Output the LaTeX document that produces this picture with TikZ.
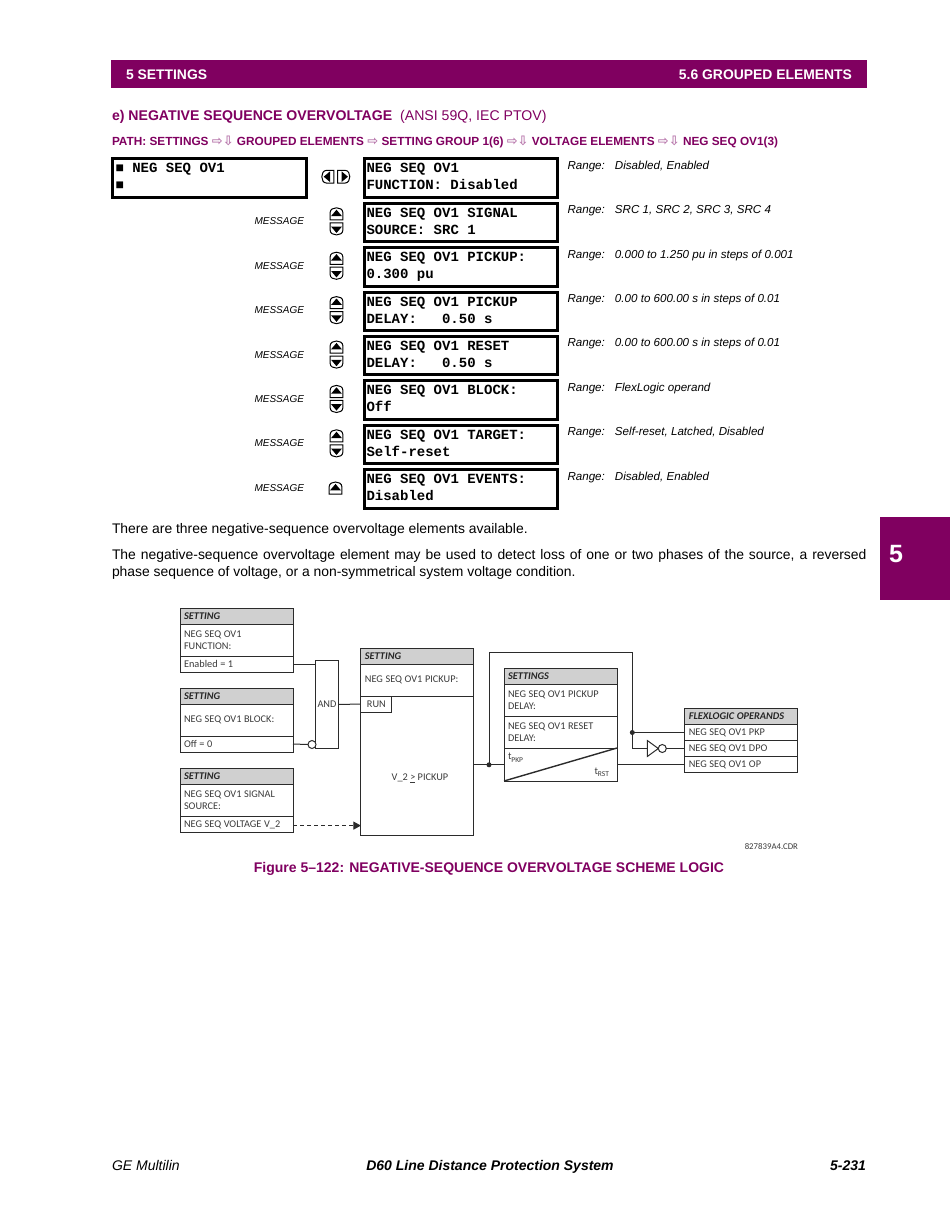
\documentclass[tikz,border=0pt]{standalone}
\usepackage{fontspec}
\usepackage{xcolor}
\setmainfont{Liberation Sans}
\setmonofont{Liberation Mono}
\newfontfamily\logicfont{Carlito}
\newfontfamily\arrowfont{DejaVu Sans}
\definecolor{gepurple}{HTML}{800060}
\definecolor{arrowpink}{HTML}{B878AC}
\definecolor{wiregrey}{HTML}{2B2B2B}
\definecolor{headgrey}{HTML}{D0D0D0}
\definecolor{logictextgrey}{HTML}{3A3A3A}
\usetikzlibrary{shapes,arrows,arrows.meta,positioning}
\newcommand{\pathsep}{{\color{arrowpink}\arrowfont\fontsize{13}{14}\selectfont ⇨}}
\newcommand{\pathdown}{{\color{arrowpink}\arrowfont\fontsize{13}{14}\selectfont ⇨⇩}}
\newcommand{\rangeline}[1]{\makebox[47.5pt][l]{Range:}#1}

\begin{document}
\begin{tikzpicture}[
    x=1pt, y=-1pt,
    band/.style={rectangle, fill=gepurple, inner sep=0pt, outer sep=0pt},
    plain/.style={inner sep=0pt, outer sep=0pt, anchor=west},
    lcdbox/.style={rectangle, draw, line width=3pt, minimum width=193pt, minimum height=38.4pt, text width=189pt, inner xsep=2pt, inner ysep=0pt, outer sep=0pt, align=left, font=\ttfamily\bfseries\fontsize{14}{17}\selectfont, execute at begin node={\spaceskip=8.4pt\relax}, execute at end node={\rule[-2.5pt]{0pt}{2.5pt}}},
    rangetext/.style={inner sep=0pt, outer sep=0pt, anchor=north west, xshift=10pt, yshift=-2pt, font=\itshape\fontsize{11.6}{14}\selectfont},
    msgtext/.style={inner sep=0pt, outer sep=0pt, yshift=1pt, font=\itshape\fontsize{10}{12}\selectfont},
    sethead/.style={rectangle, draw=wiregrey, line width=1pt, fill=headgrey, text width=105pt, minimum height=16pt, inner xsep=4pt, inner ysep=0pt, outer sep=0pt, align=left, text=black!85, font=\logicfont\bfseries\itshape\fontsize{10.3}{12}\selectfont, execute at begin node={\spaceskip=2.6pt\relax}},
    setbody/.style={rectangle, draw=wiregrey, line width=1pt, text width=105pt, minimum height=32pt, inner xsep=4pt, inner ysep=0pt, outer sep=0pt, align=left, text=logictextgrey, font=\logicfont\fontsize{10.3}{12}\selectfont, execute at begin node={\spaceskip=2.6pt\relax}},
    setval/.style={setbody, minimum height=16pt},
    logictext/.style={inner sep=0pt, outer sep=0pt, text=logictextgrey, font=\logicfont\fontsize{10.3}{12}\selectfont},
    gatebox/.style={rectangle, draw=wiregrey, line width=1pt, minimum width=22.3pt, minimum height=88pt, inner sep=0pt, outer sep=0pt, text=logictextgrey, font=\logicfont\fontsize{10.3}{12}\selectfont},
    bubble/.style={circle, draw=wiregrey, line width=1pt, fill=white, minimum size=8pt, inner sep=0pt, outer sep=0pt},
    junction/.style={circle, fill=wiregrey, minimum size=5pt, inner sep=0pt, outer sep=0pt},
    notgate/.style={isosceles triangle, isosceles triangle stretches, draw=wiregrey, line width=1pt, fill=white, minimum width=16pt, minimum height=11pt, inner sep=0pt, outer sep=0pt},
    wire/.style={wiregrey, line width=1pt},
    arrow/.style={-{Stealth[length=7.5pt,width=8pt,inset=0pt]}, wiregrey, line width=1pt, dash pattern=on 4pt off 3pt},
    upkey/.pic={
        \draw[line width=1pt, fill=white] (-6.3,5.6) -- (-6.3,-2) .. controls (-6.3,-5) and (-3,-6.5) .. (0,-6.5) .. controls (3,-6.5) and (6.3,-5) .. (6.3,-2) -- (6.3,5.6) -- cycle;
        \fill (-5.4,1.8) -- (0,-4.6) -- (5.4,1.8) -- cycle;
    },
    downkey/.pic={
        \draw[line width=1pt, fill=white] (-6.3,-5.6) -- (-6.3,2) .. controls (-6.3,5) and (-3,6.5) .. (0,6.5) .. controls (3,6.5) and (6.3,5) .. (6.3,2) -- (6.3,-5.6) -- cycle;
        \fill (-5.4,-1.8) -- (0,4.6) -- (5.4,-1.8) -- cycle;
    },
    leftkey/.pic={
        \draw[line width=1pt, fill=white] (5.6,-6.3) -- (-2,-6.3) .. controls (-5,-6.3) and (-6.5,-3) .. (-6.5,0) .. controls (-6.5,3) and (-5,6.3) .. (-2,6.3) -- (5.6,6.3) -- cycle;
        \fill (1.8,-5.4) -- (-4.6,0) -- (1.8,5.4) -- cycle;
    },
    rightkey/.pic={
        \draw[line width=1pt, fill=white] (-5.6,-6.3) -- (2,-6.3) .. controls (5,-6.3) and (6.5,-3) .. (6.5,0) .. controls (6.5,3) and (5,6.3) .. (2,6.3) -- (-5.6,6.3) -- cycle;
        \fill (-1.8,-5.4) -- (4.6,0) -- (-1.8,5.4) -- cycle;
    }
]
    \useasboundingbox (0,0) rectangle (950,1229);

    \node[band, minimum width=756pt, minimum height=28pt] (header) at (489,74) {};
    \node[plain, text=white, font=\bfseries\fontsize{13.9}{17}\selectfont] (chapter) at (126,74.8) {5 SETTINGS};
    \node[plain, anchor=east, text=white, font=\bfseries\fontsize{13.9}{17}\selectfont] (section) at (852,74.8) {5.6 GROUPED ELEMENTS};
    \node[band, minimum width=70pt, minimum height=83pt] (tab) at (915,558.5) {};
    \node[plain, anchor=center, text=white, font=\bfseries\fontsize{25}{28}\selectfont] (tabnum) at (896,554) {5};

    \node[plain, text=gepurple, font=\fontsize{14.1}{17}\selectfont] (title) at (112,117) {\textbf{e) NEGATIVE SEQUENCE OVERVOLTAGE}\hspace{8pt}(ANSI 59Q, IEC PTOV)};
    \node[plain, text=gepurple, font=\bfseries\fontsize{11.8}{14}\selectfont] (menupath) at (112,141.5) {PATH: SETTINGS \pathdown{} GROUPED ELEMENTS \pathsep{} SETTING GROUP 1(6) \pathdown{} VOLTAGE ELEMENTS \pathdown{} NEG SEQ OV1(3)};

    \node[lcdbox, minimum width=194pt, text width=188pt, inner xsep=3pt] (lcdtop) at (209.5,178) {■ NEG SEQ OV1\\■};
    \node[lcdbox] (lcdfunc) at (461,178) {NEG SEQ OV1\\FUNCTION: Disabled};
    \node[lcdbox, below=6pt of lcdfunc] (lcdsrc) {NEG SEQ OV1 SIGNAL\\SOURCE: SRC 1};
    \node[lcdbox, below=6pt of lcdsrc] (lcdpick) {NEG SEQ OV1 PICKUP:\\0.300 pu};
    \node[lcdbox, below=6pt of lcdpick] (lcdpdly) {NEG SEQ OV1 PICKUP\\DELAY:\ \ \ 0.50 s};
    \node[lcdbox, below=6pt of lcdpdly] (lcdrdly) {NEG SEQ OV1 RESET\\DELAY:\ \ \ 0.50 s};
    \node[lcdbox, below=6pt of lcdrdly] (lcdblock) {NEG SEQ OV1 BLOCK:\\Off};
    \node[lcdbox, below=6pt of lcdblock] (lcdtarget) {NEG SEQ OV1 TARGET:\\Self-reset};
    \node[lcdbox, below=6pt of lcdtarget] (lcdevents) {NEG SEQ OV1 EVENTS:\\Disabled};

    \node[rangetext] (rngfunc) at (lcdfunc.north east) {\rangeline{Disabled, Enabled}};
    \node[rangetext] (rngsrc) at (lcdsrc.north east) {\rangeline{SRC 1, SRC 2, SRC 3, SRC 4}};
    \node[rangetext] (rngpick) at (lcdpick.north east) {\rangeline{0.000 to 1.250 pu in steps of 0.001}};
    \node[rangetext] (rngpdly) at (lcdpdly.north east) {\rangeline{0.00 to 600.00 s in steps of 0.01}};
    \node[rangetext] (rngrdly) at (lcdrdly.north east) {\rangeline{0.00 to 600.00 s in steps of 0.01}};
    \node[rangetext] (rngblock) at (lcdblock.north east) {\rangeline{FlexLogic operand}};
    \node[rangetext] (rngtarget) at (lcdtarget.north east) {\rangeline{Self-reset, Latched, Disabled}};
    \node[rangetext] (rngevents) at (lcdevents.north east) {\rangeline{Disabled, Enabled}};

    \node[msgtext, left=60.5pt of lcdsrc] (msgsrc) {MESSAGE};
    \node[msgtext, left=60.5pt of lcdpick] (msgpick) {MESSAGE};
    \node[msgtext, left=60.5pt of lcdpdly] (msgpdly) {MESSAGE};
    \node[msgtext, left=60.5pt of lcdrdly] (msgrdly) {MESSAGE};
    \node[msgtext, left=60.5pt of lcdblock] (msgblock) {MESSAGE};
    \node[msgtext, left=60.5pt of lcdtarget] (msgtarget) {MESSAGE};
    \node[msgtext, left=60.5pt of lcdevents] (msgevents) {MESSAGE};

    \pic at (328.3,176.7) {leftkey};
    \pic at (343.3,176.7) {rightkey};
    \pic at (336.5,214.3) {upkey};
    \pic at (336.5,228.4) {downkey};
    \pic at (336.5,258.7) {upkey};
    \pic at (336.5,272.8) {downkey};
    \pic at (336.5,303.1) {upkey};
    \pic at (336.5,317.2) {downkey};
    \pic at (336.5,347.5) {upkey};
    \pic at (336.5,361.6) {downkey};
    \pic at (336.5,391.9) {upkey};
    \pic at (336.5,406) {downkey};
    \pic at (336.5,436.3) {upkey};
    \pic at (336.5,450.4) {downkey};
    \pic at (335.5,488.5) {upkey};

    \node[plain, font=\fontsize{13.9}{17}\selectfont] (intro) at (112,529.5) {There are three negative-sequence overvoltage elements available.};
    \node[plain, text width=754.5pt, align=justify, font=\fontsize{13.9}{17}\selectfont] (para) at (112,564) {The negative-sequence overvoltage element may be used to detect loss of one or two phases of the source, a reversed phase sequence of voltage, or a non-symmetrical system voltage condition.};

    \node[sethead] (funchead) at (236.5,616) {SETTING};
    \node[setbody, below=0pt of funchead] (funcbody) {NEG SEQ OV1\\FUNCTION:};
    \node[setval, below=0pt of funcbody] (funcval) {Enabled = 1};
    \node[sethead] (blockhead) at (236.5,696) {SETTING};
    \node[setbody, below=0pt of blockhead] (blockbody) {NEG SEQ OV1 BLOCK:};
    \node[setval, below=0pt of blockbody] (blockval) {Off = 0};
    \node[sethead] (srchead) at (236.5,776.6) {SETTING};
    \node[setbody, below=0pt of srchead] (srcbody) {NEG SEQ OV1 SIGNAL\\SOURCE:};
    \node[setval, below=0pt of srcbody] (srcval) {NEG SEQ VOLTAGE V\_2};

    \node[gatebox] (andgate) at (327,704.5) {AND};
    \node[bubble] (blocknot) at (312,744.5) {};

    \node[sethead] (pickhead) at (417.4,656) {SETTING};
    \node[setbody, below=0pt of pickhead] (pickbody) {NEG SEQ OV1 PICKUP:};
    \node[setbody, below=0pt of pickbody, minimum height=139pt] (pickcmp) {};
    \node[setval, anchor=north west, text width=23pt, align=center] (pickrun) at (pickcmp.north west) {RUN};
    \node[logictext] (pickexpr) at (420,778.5) {V\_2 \underline{>} PICKUP};

    \node[sethead] (delayhead) at (560.5,676) {SETTINGS};
    \node[setbody, below=0pt of delayhead] (delaypkp) {NEG SEQ OV1 PICKUP\\DELAY:};
    \node[setbody, below=0pt of delaypkp] (delayrst) {NEG SEQ OV1 RESET\\DELAY:};
    \node[setbody, below=0pt of delayrst, minimum height=33pt] (delaytimer) {};
    \node[logictext, anchor=north west, xshift=4pt, yshift=-5pt] (tpkp) at (delaytimer.north west) {t\raisebox{-2.5pt}{\fontsize{7.5}{8}\selectfont PKP}};
    \node[logictext, anchor=south east, xshift=-8pt, yshift=4pt] (trst) at (delaytimer.south east) {t\raisebox{-2.5pt}{\fontsize{7.5}{8}\selectfont RST}};

    \node[sethead] (flexhead) at (741.3,716.5) {FLEXLOGIC OPERANDS};
    \node[setval, below=0pt of flexhead] (flexpkp) {NEG SEQ OV1 PKP};
    \node[setval, below=0pt of flexpkp] (flexdpo) {NEG SEQ OV1 DPO};
    \node[setval, below=0pt of flexdpo] (flexop) {NEG SEQ OV1 OP};

    \node[junction] (outdot) at (489,764.8) {};
    \node[junction] (pkpdot) at (632.3,732.5) {};
    \coordinate (loopright) at (632.3,652.7);
    \node[notgate, anchor=lower side] (dpogate) at (647.3,748.5) {};
    \node[bubble, right=0pt of dpogate.apex] (dponot) {};

    \draw[wire] (funcval.east) -- (funcval.east -| andgate.west);
    \draw[wire] (blockval.east) -- (blocknot.west);
    \draw[wire] (andgate.east) -- (pickrun.west);
    \draw[arrow] ([yshift=-1pt]srcval.east) -- ([yshift=-1pt]srcval.east -| pickcmp.west);
    \draw[wire, line width=1.5pt] (delaytimer.west -| pickcmp.east) -- (delaytimer.west);
    \draw[wire] (outdot.center) |- (loopright) -- (pkpdot.center);
    \draw[wire] (pkpdot.center) -- (flexpkp.west);
    \draw[wire] (pkpdot.center) |- (dpogate.lower side);
    \draw[wire] (dponot.east) -- (flexdpo.west);
    \draw[wire, line width=1.6pt] (delaytimer.east) -- (flexop.west);
    \draw[wire, line width=1.4pt] (delaytimer.south west) -- (delaytimer.north east);

    \node[plain, anchor=east, text=logictextgrey, font=\logicfont\fontsize{8.8}{10}\selectfont, execute at begin node={\spaceskip=2pt\relax}] (drawingno) at (798,846.5) {827839A4.CDR};
    \node[plain, anchor=center, text=gepurple, font=\bfseries\fontsize{14}{17}\selectfont] (caption) at (489,868.5) {Figure 5–122: NEGATIVE-SEQUENCE OVERVOLTAGE SCHEME LOGIC};

    \node[plain, font=\itshape\fontsize{14}{17}\selectfont] (footleft) at (112,1165.5) {GE Multilin};
    \node[plain, anchor=center, font=\bfseries\itshape\fontsize{14}{17}\selectfont] (footmid) at (490,1166.5) {D60 Line Distance Protection System};
    \node[plain, anchor=east, font=\bfseries\itshape\fontsize{14}{17}\selectfont] (footright) at (866,1165.5) {5-231};
\end{tikzpicture}
\end{document}
